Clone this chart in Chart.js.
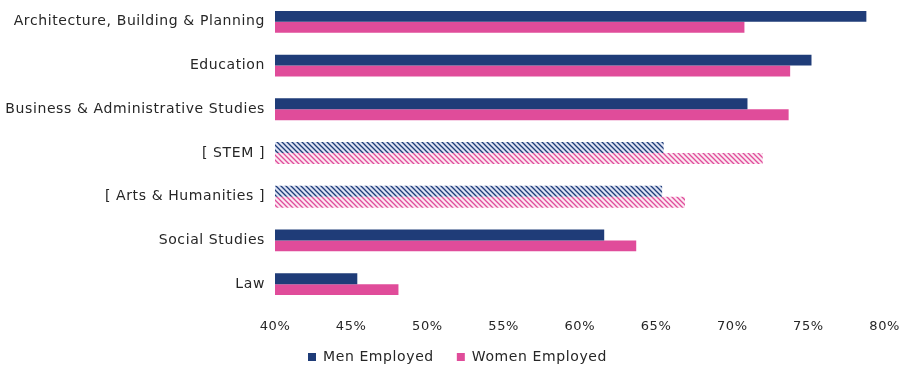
<!DOCTYPE html>
<html>
<head>
<meta charset="utf-8">
<script src="https://cdn.jsdelivr.net/npm/chart.js@4"></script>
<style>
  body { margin: 0; background: #fff; }
  #wrap { width: 905px; height: 370px; }
</style>
</head>
<body>
<div id="wrap"><canvas id="employChart"></canvas></div>
<script>
// Employment rate by subject area
const subjects = [
  "Architecture, Building & Planning",
  "Education",
  "Business & Administrative Studies",
  "[ STEM ]",
  "[ Arts & Humanities ]",
  "Social Studies",
  "Law",
];
const menEmployed = [78.8, 75.2, 71.0, 65.5, 65.4, 61.6, 45.4];
const womenEmployed = [70.8, 73.8, 73.7, 72.0, 66.9, 63.7, 48.1];
const groupedRows = ["[ STEM ]", "[ Arts & Humanities ]"];
const xTicks = [40, 45, 50, 55, 60, 65, 70, 75, 80];

const NAVY = "#1f3c78";
const PINK = "#e04c9a";
const FONT = { family: "DejaVu Sans", size: 14 };

// striped fill for the grouped rows
function stripes(line, bg) {
  let c = document.createElement("canvas");
  c.width = 5;
  c.height = 5;
  let g = c.getContext("2d");
  g.fillStyle = bg;
  g.fillRect(0, 0, 5, 5);
  g.strokeStyle = line;
  g.lineWidth = 1.3;
  g.beginPath();
  g.moveTo(-1, -1); g.lineTo(6, 6);
  g.moveTo(-1, 4); g.lineTo(1, 6);
  g.moveTo(4, -1); g.lineTo(6, 1);
  g.stroke();
  return g.createPattern(c, "repeat");
}

const menFill = subjects.map((s) =>
  groupedRows.includes(s) ? stripes(NAVY, "#dde3f4") : NAVY
);
const womenFill = subjects.map((s) =>
  groupedRows.includes(s) ? stripes(PINK, "#fce8f2") : PINK
);

// slightly wider letter spacing for all chart text
const spacing = {
  id: "spacing",
  beforeUpdate(chart) {
    chart.ctx.letterSpacing = "0.6px";
  },
  beforeDraw(chart) {
    chart.ctx.letterSpacing = "0.6px";
  },
};

// pull the legend up closer to the axis labels, a bit to the right
const legendNudge = {
  id: "legendNudge",
  afterLayout(chart) {
    chart.legend.top -= 9;
    chart.legend.bottom -= 9;
    chart.legend.left += 16;
    chart.legend.width -= 16;
  },
};

let ctx = document.getElementById("employChart").getContext("2d");
let employChart = new Chart(ctx, {
  type: "bar",
  data: {
    labels: subjects,
    datasets: [
      {
        label: "Men Employed",
        data: menEmployed,
        backgroundColor: menFill,
        categoryPercentage: 0.5,
        barPercentage: 1.0,
      },
      {
        label: "Women Employed",
        data: womenEmployed,
        backgroundColor: womenFill,
        categoryPercentage: 0.5,
        barPercentage: 1.0,
      },
    ],
  },
  options: {
    indexAxis: "y",
    responsive: true,
    maintainAspectRatio: false,
    animation: false,
    layout: { padding: { top: 0, right: 10, bottom: -13, left: 4 } },
    scales: {
      x: {
        min: 40,
        max: 80,
        afterBuildTicks: (axis) => {
          axis.ticks = xTicks.map((v) => ({ value: v }));
        },
        afterFit: (axis) => {
          axis.height = 30;
        },
        grid: { display: false },
        border: { display: false },
        ticks: {
          callback: (v) => v + "%",
          color: "#262626",
          font: { family: "DejaVu Sans", size: 13 },
          padding: 5,
        },
      },
      y: {
        afterFit: (axis) => {
          axis.width = 271;
          axis.paddingTop = 0;
          axis.paddingBottom = 0;
        },
        grid: { display: false },
        border: { display: false },
        ticks: {
          color: "#262626",
          font: FONT,
          padding: 2,
        },
      },
    },
    plugins: {
      legend: {
        position: "bottom",
        labels: {
          boxWidth: 8,
          boxHeight: 8,
          color: "#262626",
          font: FONT,
          padding: 23,
        },
      },
      tooltip: { enabled: false },
    },
  },
  plugins: [spacing, legendNudge],
});
</script>
</body>
</html>
